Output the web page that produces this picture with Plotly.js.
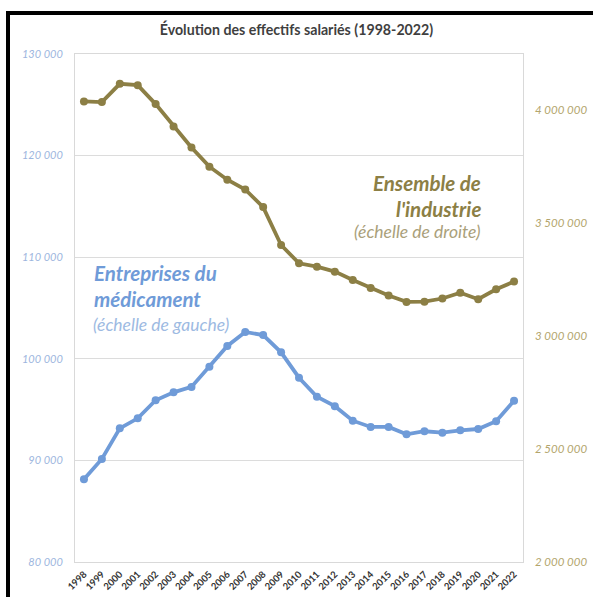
<!DOCTYPE html>
<html>
<head>
<meta charset="utf-8">
<script src="https://cdn.plot.ly/plotly-3.0.1.min.js"></script>
<style>
  html, body { margin: 0; padding: 0; background: #fff; }
  #wrap { position: relative; width: 593px; height: 597px; overflow: hidden; }
  #chart { position: absolute; left: 0; top: 0; width: 593px; height: 597px; }
  #frame { position: absolute; left: 6px; top: 11px; width: 620px; height: 620px;
           border-left: 4px solid #000; border-top: 4px solid #000; pointer-events: none; }
</style>
</head>
<body>
<div id="wrap">
  <div id="chart"></div>
  <div id="frame"></div>
</div>
<script>
const years = ["1998","1999","2000","2001","2002","2003","2004","2005","2006","2007","2008","2009","2010","2011","2012","2013","2014","2015","2016","2017","2018","2019","2020","2021","2022"];
const medicament = [88140, 90140, 93160, 94140, 95920, 96700, 97230, 99220, 101260, 102640, 102340, 100640, 98140, 96270, 95340, 93910, 93290, 93290, 92570, 92870, 92730, 92960, 93090, 93850, 95880];
const industrie = [4040000, 4037000, 4118000, 4112000, 4028000, 3929000, 3836000, 3751000, 3693000, 3650000, 3572000, 3404000, 3323000, 3308000, 3286000, 3249000, 3214000, 3180000, 3152000, 3153000, 3167000, 3193000, 3164000, 3208000, 3242000];
const leftTicks = [80000, 90000, 100000, 110000, 120000, 130000];
const rightTicks = [2000000, 2500000, 3000000, 3500000, 4000000];

const blue = '#6f9bd8';
const olive = '#8c7f45';
const fontFam = 'Lato, "Open Sans", sans-serif';

const traces = [
  {
    x: years, y: medicament, type: 'scatter', mode: 'lines+markers', yaxis: 'y',
    line: {color: blue, width: 3.8}, marker: {color: blue, size: 8},
    hoverinfo: 'skip'
  },
  {
    x: years, y: industrie, type: 'scatter', mode: 'lines+markers', yaxis: 'y2',
    line: {color: olive, width: 3.8}, marker: {color: olive, size: 8},
    hoverinfo: 'skip'
  }
];

const layout = {
  width: 593, height: 597,
  margin: {l: 75, r: 70, t: 54, b: 35},
  paper_bgcolor: '#fff', plot_bgcolor: '#fff',
  separators: ', ',
  showlegend: false,
  font: {family: fontFam},
  title: {
    text: '<b>Évolution des effectifs salariés (1998-2022)</b>',
    font: {family: fontFam, size: 14.2, color: '#3f3f3f'},
    x: 0.5, xanchor: 'center', y: 0.95, yanchor: 'middle', yref: 'container'
  },
  xaxis: {
    type: 'category', range: [-0.5, 24.5],
    tickangle: -45, automargin: false,
    tickfont: {family: fontFam, size: 9.5, color: '#333', weight: 'bold'},
    showgrid: false, zeroline: false,
    showline: true, linecolor: '#d9d9d9', linewidth: 1, mirror: true,
    ticks: '', ticklabelstandoff: 2
  },
  yaxis: {
    range: [80000, 130000], tickvals: leftTicks, tickformat: ',d',
    tickfont: {family: fontFam, size: 11, color: '#9db6de', style: 'italic'},
    showgrid: true, gridcolor: '#dcdcdc', gridwidth: 1, zeroline: false,
    showline: true, linecolor: '#d9d9d9', linewidth: 1, mirror: true,
    ticks: '', ticklabelstandoff: 9, automargin: false
  },
  yaxis2: {
    overlaying: 'y', side: 'right',
    range: [2000000, 4250000], tickvals: rightTicks, tickformat: ',d',
    tickfont: {family: fontFam, size: 11.5, color: '#b3a56c', style: 'italic'},
    showgrid: false, zeroline: false, showline: false,
    ticks: '', ticklabelstandoff: 11, automargin: false
  },
  annotations: [
    {xref: 'paper', yref: 'paper', x: 0.038, y: 0.569, xanchor: 'left', yanchor: 'middle',
     text: '<b><i>Entreprises du</i></b>', showarrow: false,
     font: {family: fontFam, size: 20.5, color: blue}},
    {xref: 'paper', yref: 'paper', x: 0.038, y: 0.518, xanchor: 'left', yanchor: 'middle',
     text: '<b><i>médicament</i></b>', showarrow: false,
     font: {family: fontFam, size: 20.5, color: blue}},
    {xref: 'paper', yref: 'paper', x: 0.036, y: 0.467, xanchor: 'left', yanchor: 'middle',
     text: '<i>(échelle de gauche)</i>', showarrow: false,
     font: {family: fontFam, size: 17.5, color: '#9dbae2'}},
    {xref: 'paper', yref: 'paper', x: 0.911, y: 0.746, xanchor: 'right', yanchor: 'middle',
     text: '<b><i>Ensemble de</i></b>', showarrow: false,
     font: {family: fontFam, size: 20.5, color: olive}},
    {xref: 'paper', yref: 'paper', x: 0.911, y: 0.695, xanchor: 'right', yanchor: 'middle',
     text: '<b><i>l\'industrie</i></b>', showarrow: false,
     font: {family: fontFam, size: 20.5, color: olive}},
    {xref: 'paper', yref: 'paper', x: 0.911, y: 0.650, xanchor: 'right', yanchor: 'middle',
     text: '<i>(échelle de droite)</i>', showarrow: false,
     font: {family: fontFam, size: 17.5, color: '#aaa07a'}}
  ]
};

Plotly.newPlot('chart', traces, layout, {displayModeBar: false, staticPlot: true});
</script>
</body>
</html>
